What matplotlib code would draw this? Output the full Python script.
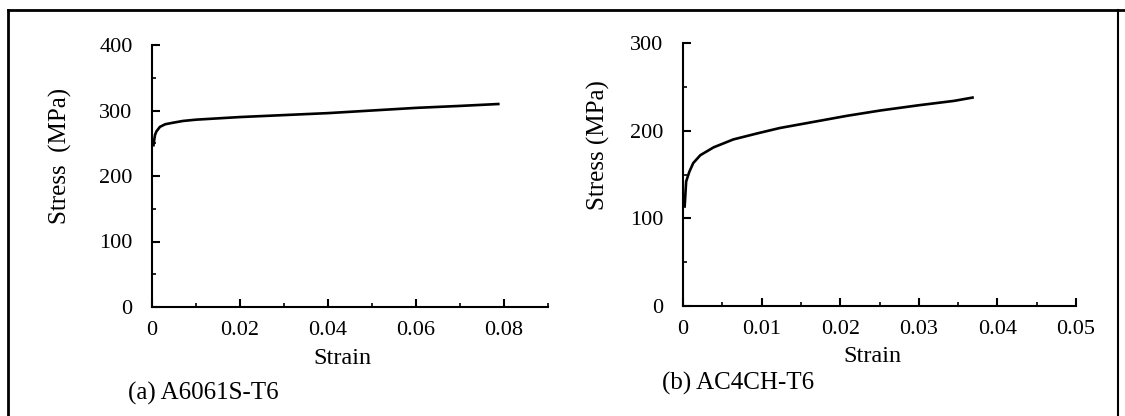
import matplotlib.pyplot as plt
from matplotlib.ticker import MultipleLocator
from matplotlib.lines import Line2D

plt.rcParams['font.family'] = ['Liberation Serif', 'DejaVu Serif']

# (a) A6061S-T6
strain_a = [0.0003, 0.0005, 0.0007, 0.001, 0.0018, 0.003, 0.0045, 0.007, 0.01,
            0.015, 0.02, 0.03, 0.04, 0.05, 0.06, 0.07, 0.079]
stress_a = [245, 255, 263, 268, 275, 279, 281, 284, 286,
            288, 290, 293, 296, 300, 304, 307, 310]

# (b) AC4CH-T6
strain_b = [0.0002, 0.0004, 0.0008, 0.0013, 0.0022, 0.0039, 0.0064, 0.0095,
            0.0123, 0.0166, 0.0209, 0.0251, 0.03, 0.0345, 0.037]
stress_b = [112, 142, 153, 163, 172, 181, 190, 197,
            203, 210, 217, 223, 229, 234, 238]

TICK_FS = 16
LABEL_FS = 17.5
YLABEL_FS = 18
CAP_FS = 18
LW_AX = 1.5

fig = plt.figure(figsize=(11.25, 4.16), dpi=100)

def style_axis(ax, xmax, xmaj, xmin, ymax, ymaj, ymin):
    ax.set_xlim(0, xmax)
    ax.set_ylim(0, ymax)
    ax.xaxis.set_major_locator(MultipleLocator(xmaj))
    ax.xaxis.set_minor_locator(MultipleLocator(xmin))
    ax.yaxis.set_major_locator(MultipleLocator(ymaj))
    ax.yaxis.set_minor_locator(MultipleLocator(ymin))
    for s in ['top', 'right']:
        ax.spines[s].set_visible(False)
    for s in ['left', 'bottom']:
        ax.spines[s].set_linewidth(LW_AX)
    ax.tick_params(which='major', direction='in', length=6, width=1.5,
                   labelsize=TICK_FS)
    ax.tick_params(axis='x', which='major', pad=10)
    ax.tick_params(axis='y', which='major', pad=14)
    ax.tick_params(which='minor', direction='in', length=3, width=1.2)
    ax.xaxis.set_major_formatter(plt.FuncFormatter(
        lambda v, p: '0' if abs(v) < 1e-12 else ('%g' % v)))

# left panel
ax1 = fig.add_axes([152/1125, 1 - 307/416, 396/1125, 262/416])
ax1.plot(strain_a, stress_a, color='black', lw=1.9, solid_capstyle='butt')
style_axis(ax1, 0.09, 0.02, 0.01, 400, 100, 50)
ax1.set_xticks([0, 0.02, 0.04, 0.06, 0.08])
ax1.set_xlabel('Strain', fontsize=LABEL_FS)
ax1.xaxis.set_label_coords((342 - 152)/396, (307 - 358)/262)
ax1.xaxis.label.set_va('center')
ax1.set_ylabel('Stress  (MPa)', fontsize=YLABEL_FS)
ax1.yaxis.set_label_coords((60 - 152)/396, (307 - 156)/262)
ax1.yaxis.label.set_va('center')

# right panel
ax2 = fig.add_axes([683/1125, 1 - 306/416, 393/1125, 263/416])
ax2.plot(strain_b, stress_b, color='black', lw=1.9, solid_capstyle='butt')
style_axis(ax2, 0.05, 0.01, 0.005, 300, 100, 50)
ax2.set_xlabel('Strain', fontsize=LABEL_FS)
ax2.xaxis.set_label_coords((872 - 683)/393, (306 - 356)/263)
ax2.xaxis.label.set_va('center')
ax2.set_ylabel('Stress (MPa)', fontsize=YLABEL_FS)
ax2.yaxis.set_label_coords((598 - 683)/393, (306 - 145)/263)
ax2.yaxis.label.set_va('center')

fig.text(128/1125, 1 - 393/416, '(a) A6061S-T6', fontsize=CAP_FS, va='center', ha='left')
fig.text(662/1125, 1 - 383/416, '(b) AC4CH-T6', fontsize=CAP_FS, va='center', ha='left')

# outer frame
fig.add_artist(Line2D([8/1125, 8/1125], [0, 1 - 10/416], transform=fig.transFigure,
                      color='black', lw=2))
fig.add_artist(Line2D([8/1125, 1], [1 - 10/416, 1 - 10/416], transform=fig.transFigure,
                      color='black', lw=2))
fig.add_artist(Line2D([1118/1125, 1118/1125], [0, 1 - 10/416], transform=fig.transFigure,
                      color='black', lw=1.5))

fig.savefig('out.png', dpi=100)
